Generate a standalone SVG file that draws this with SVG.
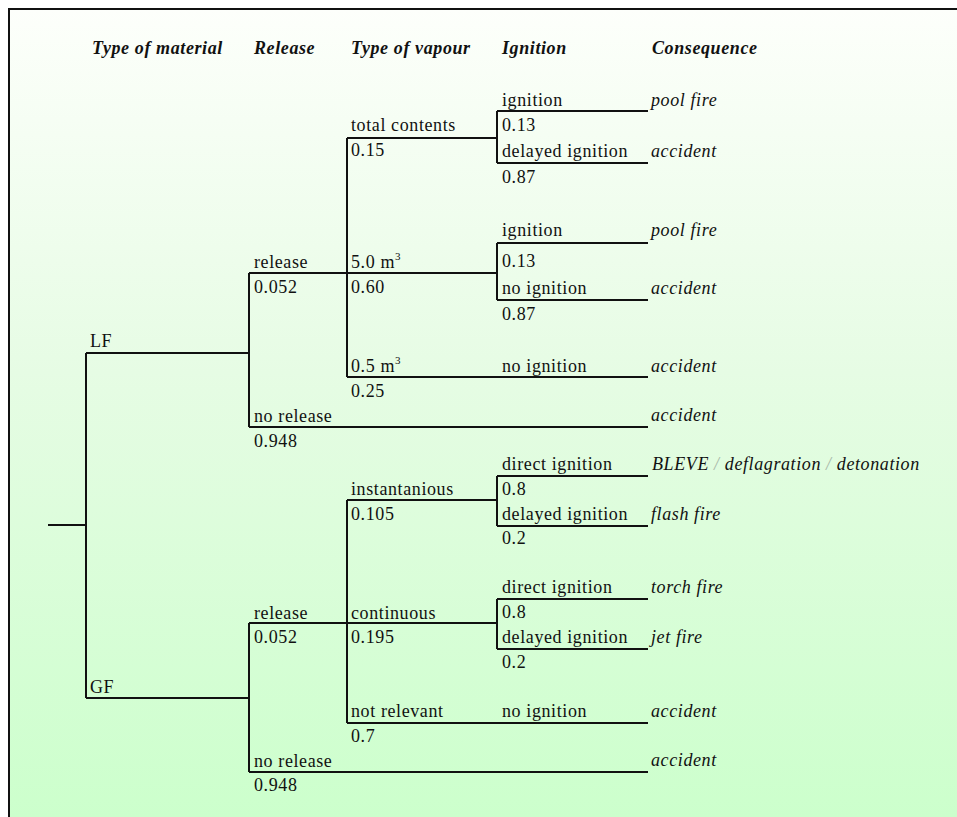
<svg xmlns="http://www.w3.org/2000/svg" width="957" height="817" viewBox="0 0 957 817">
  <defs>
    <linearGradient id="bg" x1="0" y1="0" x2="0" y2="1">
      <stop offset="0" stop-color="#fdfffb"/>
      <stop offset="0.45" stop-color="#e6fce4"/>
      <stop offset="1" stop-color="#ccffcc"/>
    </linearGradient>
    <style>
      text { font-family: "Liberation Serif", "Times New Roman", serif; font-size: 18px; letter-spacing: 0.6px; fill: #111; }
      .hd { font-weight: bold; font-style: italic; }
      .cq { font-style: italic; }
      .sl { fill: #a8b8a8; }
      .br { fill: none; stroke: #111; stroke-width: 2; }
    </style>
  </defs>

  <!-- frame and background -->
  <rect x="0" y="0" width="957" height="817" fill="#ffffff"/>
  <rect x="9" y="9" width="948" height="808" fill="url(#bg)"/>
  <path d="M9 817 V9 H957" fill="none" stroke="#111" stroke-width="2"/>

  <!-- column headers -->
  <g id="headers">
    <text class="hd" x="92" y="54">Type of material</text>
    <text class="hd" x="254" y="54">Release</text>
    <text class="hd" x="351" y="54">Type of vapour</text>
    <text class="hd" x="502" y="54">Ignition</text>
    <text class="hd" x="652" y="54">Consequence</text>
  </g>

  <!-- branch lines -->
  <g id="connectors" class="br">
    <!-- root -->
    <path d="M48 525 H86 M86 353 V698"/>
    <!-- LF -->
    <path d="M86 353 H249 M249 273 V427"/>
    <path d="M249 273 H497 M249 427 H648"/>
    <path d="M347 138 V377 M347 138 H497 M347 377 H648"/>
    <path d="M497 111 V163 M497 111 H648 M497 163 H648"/>
    <path d="M497 243 V300 M497 243 H648 M497 300 H648"/>
    <!-- GF -->
    <path d="M86 698 H249 M249 623 V772"/>
    <path d="M249 623 H497 M249 772 H648"/>
    <path d="M347 500 V723 M347 500 H497 M347 723 H648"/>
    <path d="M497 476 V526 M497 476 H648 M497 526 H648"/>
    <path d="M497 599 V649 M497 599 H648 M497 649 H648"/>
  </g>

  <!-- material nodes -->
  <g id="node-lf"><text x="90" y="347">LF</text></g>
  <g id="node-gf"><text x="90" y="693">GF</text></g>

  <!-- LF branch -->
  <g id="node-lf-release">
    <text x="254" y="268">release</text>
    <text x="254" y="293">0.052</text>
  </g>
  <g id="node-lf-norelease">
    <text x="254" y="422">no release</text>
    <text x="254" y="447">0.948</text>
    <text class="cq" x="651" y="421">accident</text>
  </g>
  <g id="node-lf-total">
    <text x="351" y="131">total contents</text>
    <text x="351" y="156">0.15</text>
    <text x="502" y="106">ignition</text>
    <text class="cq" x="651" y="106">pool fire</text>
    <text x="502" y="131">0.13</text>
    <text x="502" y="157">delayed ignition</text>
    <text class="cq" x="651" y="157">accident</text>
    <text x="502" y="183">0.87</text>
  </g>
  <g id="node-lf-5m3">
    <text x="351" y="268">5.0 m<tspan font-size="11" dy="-8">3</tspan></text>
    <text x="351" y="293">0.60</text>
    <text x="502" y="236">ignition</text>
    <text class="cq" x="651" y="236">pool fire</text>
    <text x="502" y="267">0.13</text>
    <text x="502" y="294">no ignition</text>
    <text class="cq" x="651" y="294">accident</text>
    <text x="502" y="320">0.87</text>
  </g>
  <g id="node-lf-05m3">
    <text x="351" y="372">0.5 m<tspan font-size="11" dy="-8">3</tspan></text>
    <text x="351" y="397">0.25</text>
    <text x="502" y="372">no ignition</text>
    <text class="cq" x="651" y="372">accident</text>
  </g>

  <!-- GF branch -->
  <g id="node-gf-release">
    <text x="254" y="619">release</text>
    <text x="254" y="643">0.052</text>
  </g>
  <g id="node-gf-norelease">
    <text x="254" y="767">no release</text>
    <text x="254" y="791">0.948</text>
    <text class="cq" x="651" y="766">accident</text>
  </g>
  <g id="node-gf-instant">
    <text x="351" y="495">instantanious</text>
    <text x="351" y="520">0.105</text>
    <text x="502" y="470">direct ignition</text>
    <text class="cq" x="652" y="470">BLEVE <tspan class="sl">/</tspan> deflagration <tspan class="sl">/</tspan> detonation</text>
    <text x="502" y="495">0.8</text>
    <text x="502" y="520">delayed ignition</text>
    <text class="cq" x="651" y="520">flash fire</text>
    <text x="502" y="544">0.2</text>
  </g>
  <g id="node-gf-continuous">
    <text x="351" y="619">continuous</text>
    <text x="351" y="643">0.195</text>
    <text x="502" y="593">direct ignition</text>
    <text class="cq" x="651" y="593">torch fire</text>
    <text x="502" y="618">0.8</text>
    <text x="502" y="643">delayed ignition</text>
    <text class="cq" x="651" y="643">jet fire</text>
    <text x="502" y="668">0.2</text>
  </g>
  <g id="node-gf-notrelevant">
    <text x="351" y="717">not relevant</text>
    <text x="351" y="742">0.7</text>
    <text x="502" y="717">no ignition</text>
    <text class="cq" x="651" y="717">accident</text>
  </g>
</svg>
